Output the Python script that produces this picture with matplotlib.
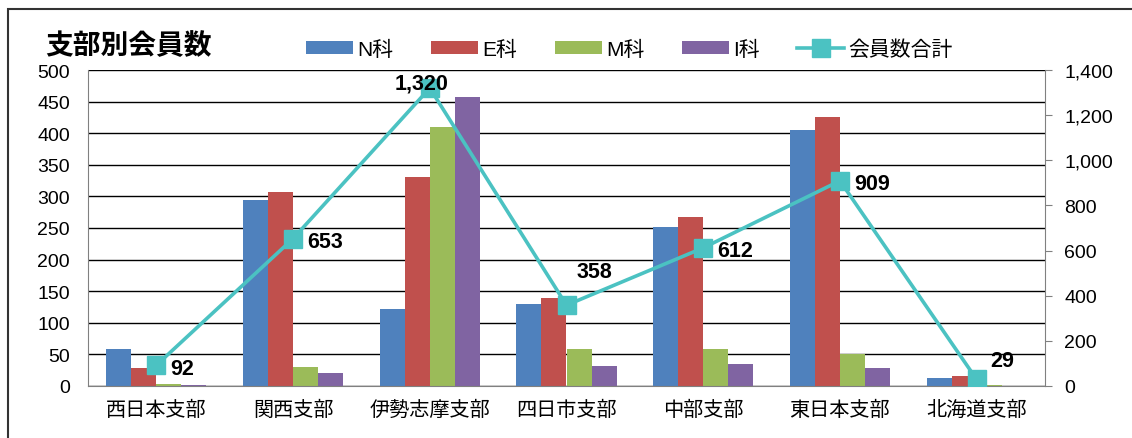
import matplotlib
matplotlib.use("Agg")
import matplotlib.pyplot as plt
import numpy as np
from matplotlib.patches import Rectangle
from matplotlib.ticker import FuncFormatter

plt.rcParams['font.family'] = ['Liberation Sans', 'Noto Sans CJK JP', 'DejaVu Sans']

categories = ['西日本支部', '関西支部', '伊勢志摩支部', '四日市支部', '中部支部', '東日本支部', '北海道支部']
series_names = ['N科', 'E科', 'M科', 'I科']
n_vals = [59, 295, 122, 129, 252, 405, 12]
e_vals = [29, 307, 330, 139, 267, 425, 16]
m_vals = [3, 30, 410, 59, 58, 51, 1]
i_vals = [1, 21, 458, 31, 35, 28, 0]
total_name = '会員数合計'
totals = [92, 653, 1320, 358, 612, 909, 29]
title = '支部別会員数'

colors = ['#4F81BD', '#C0504D', '#9BBB59', '#8064A2']
line_color = '#4BC2C2'
label_offsets = [(10, -2), (10, -2), (-6, 4), (7, 24), (10, -2), (10, -2), (10, 14)]
label_ha = ['left', 'left', 'center', 'left', 'left', 'left', 'left']

fig = plt.figure(figsize=(11.32, 4.39), dpi=100)
ax = fig.add_axes([88/1132, 1-387/439, (1045-88)/1132, (387-71)/439])

x = np.arange(len(categories))
width = 0.183
all_series = [n_vals, e_vals, m_vals, i_vals]
handles = []
for k, (vals, name, c) in enumerate(zip(all_series, series_names, colors)):
    b = ax.bar(x + (k - 1.5) * width, vals, width, color=c, label=name, zorder=2)
    handles.append(b)

ax.set_ylim(0, 500)
ax.set_yticks(np.arange(0, 501, 50))
ax.set_xlim(-0.5, len(categories) - 0.5)
ax.set_xticks(x)
ax.set_xticklabels(categories, fontsize=14.5)
ax.tick_params(axis='x', length=0, pad=10)
ax.tick_params(axis='y', length=0, labelsize=14, pad=13)
ax.grid(axis='y', color='black', linewidth=1.0, zorder=0)
ax.set_axisbelow(True)
for s in ['top', 'right']:
    ax.spines[s].set_visible(False)
ax.spines['left'].set_color('#808080')
ax.spines['bottom'].set_color('#808080')

ax2 = ax.twinx()
ln, = ax2.plot(x, totals, color=line_color, linewidth=2.6, marker='s', markersize=13.5,
               markerfacecolor=line_color, markeredgecolor=line_color, label=total_name, zorder=3)
ax2.set_ylim(0, 1400)
ax2.set_yticks(np.arange(0, 1401, 200))
ax2.yaxis.set_major_formatter(FuncFormatter(lambda v, p: f'{int(v):,}'))
ax2.tick_params(axis='y', direction='out', length=5, labelsize=14, pad=9, color='#808080')
for s in ['top', 'left', 'bottom']:
    ax2.spines[s].set_visible(False)
ax2.spines['right'].set_color('#808080')

for xi, t, off, ha in zip(x, totals, label_offsets, label_ha):
    ax2.annotate(f'{t:,}', (xi, t), xytext=off, textcoords='offset points',
                 ha=ha, va='center', fontsize=15.5, fontweight='bold',
                 family=['Liberation Sans Narrow', 'Liberation Sans', 'DejaVu Sans'], zorder=5)

fig.text(45/1132, 1-46/439, title, fontsize=20, fontweight='bold', ha='left', va='center',
         family=['Noto Sans CJK JP', 'DejaVu Sans'])

fig.legend(handles + [ln], series_names + [total_name], loc='center', bbox_to_anchor=(0.556, 1-50/439),
           ncol=5, frameon=False, fontsize=15, handlelength=2.26, handleheight=0.58,
           columnspacing=1.8, handletextpad=0.2, borderpad=0, borderaxespad=0)

fig.patches.append(Rectangle((8/1132, -0.1), 1.2, 1.1 - 10/439, transform=fig.transFigure,
                             fill=False, edgecolor='#333333', linewidth=1.5))

fig.savefig('out.png', dpi=100)
